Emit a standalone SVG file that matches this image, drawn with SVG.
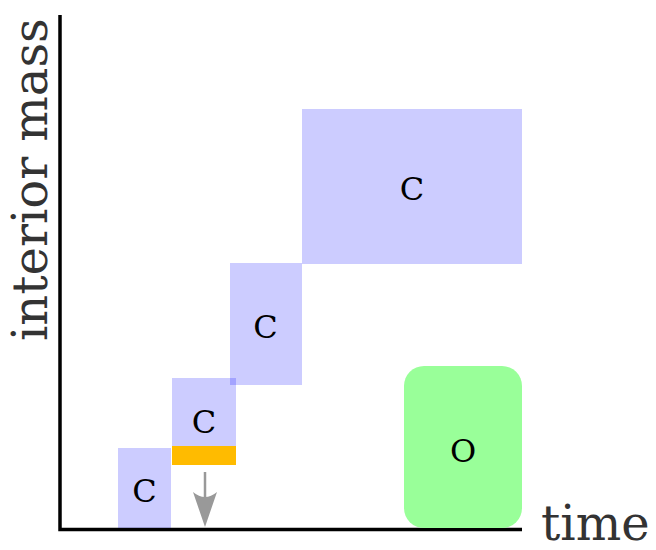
<svg xmlns="http://www.w3.org/2000/svg" width="656" height="550" viewBox="0 0 656 550">
  <defs>
    <style>
      .cv { fill: #0000ff; fill-opacity: 0.2; }
      .lbl { font-family: "DejaVu Serif", "Liberation Serif", serif; font-size: 32px; fill: #000; text-anchor: middle; }
      .axis { stroke: #000; stroke-width: 3.5; fill: none; }
      .axlbl { font-family: "DejaVu Serif", "Liberation Serif", serif; font-size: 48px; fill: #333; }
    </style>
    <marker id="head" markerUnits="userSpaceOnUse" viewBox="0 0 36 24" refX="35" refY="12" markerWidth="36" markerHeight="24" orient="auto">
      <path d="M0,0 Q10,12 0,24 L35,12 Z" fill="#999"/>
    </marker>
  </defs>

  <!-- axes -->
  <g id="axes">
    <path class="axis" d="M60,15 V529.5 H522"/>
    <text class="axlbl" transform="translate(47,341) rotate(-90)">interior mass</text>
    <text class="axlbl" x="541" y="540">time</text>
  </g>

  <!-- convective zones -->
  <g id="c1">
    <rect class="cv" x="118" y="448" width="53" height="80"/>
    <text class="lbl" x="144.5" y="502">C</text>
  </g>
  <g id="c2">
    <rect class="cv" x="172" y="378" width="64" height="68"/>
    <rect x="172" y="446" width="64" height="19" fill="#ffbb00"/>
    <text class="lbl" x="204" y="433">C</text>
  </g>
  <g id="c3">
    <rect class="cv" x="230" y="263" width="72" height="122"/>
    <text class="lbl" x="265.5" y="338">C</text>
  </g>
  <g id="c4">
    <rect class="cv" x="302" y="109" width="220" height="155"/>
    <text class="lbl" x="412" y="200">C</text>
  </g>

  <!-- other zone -->
  <g id="o1">
    <rect x="404" y="366" width="118" height="162" rx="20" ry="20" fill="#99ff99"/>
    <text class="lbl" x="463" y="462">O</text>
  </g>

  <!-- connectors -->
  <g id="connectors">
    <line x1="205" y1="472" x2="205" y2="500" stroke="#999" stroke-width="2.5"/>
    <line x1="205" y1="496" x2="205" y2="527" stroke="none" marker-end="url(#head)"/>
  </g>
</svg>
